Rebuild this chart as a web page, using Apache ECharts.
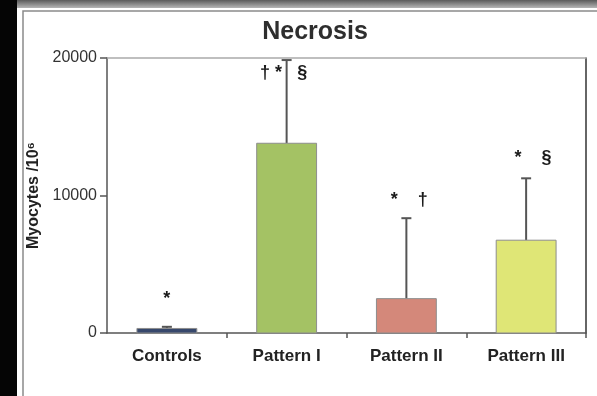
<!DOCTYPE html>
<html>
<head>
<meta charset="utf-8">
<script src="https://cdn.jsdelivr.net/npm/echarts@6/dist/echarts.min.js"></script>
<style>
  html, body { margin: 0; padding: 0; background: #fff; }
  #chart { width: 597px; height: 396px; }
</style>
</head>
<body>
<div id="chart"></div>
<script>
// Necrotic myocytes per 10^6, mean and upper error bound for each group
const categories = ['Controls', 'Pattern I', 'Pattern II', 'Pattern III'];
const means = [330, 13800, 2500, 6750];
const upperErrors = [450, 19850, 8350, 11250];
const significance = ['*', '† *   §', '*    †', '*    §'];
const significanceAt = [2500, 18900, 9650, 12700];
const barColors = ['#37486c', '#a4c264', '#d4887a', '#dfe676'];
const yTicks = [0, 10000, 20000];

// horizontal nudge of each significance label relative to the bar centre (px)
const labelShift = [0, -3, 3, 7];

const chart = echarts.init(document.getElementById('chart'));
const FONT = '"Liberation Sans", Arial, sans-serif';

const rows = categories.map((c, i) => [i, means[i], upperErrors[i], significanceAt[i]]);

chart.setOption({
  animation: false,
  backgroundColor: '#fff',
  title: {
    text: 'Necrosis',
    left: 310, top: 15, textAlign: 'center',
    textStyle: { fontFamily: FONT, fontSize: 25, fontWeight: 'bold', color: '#2e2e2e' }
  },
  graphic: [
    { type: 'rect', left: 0, top: 0, shape: { width: 17, height: 396 }, style: { fill: '#050505' }, z: 100 },
    { type: 'rect', left: 17, top: 0, shape: { width: 580, height: 8 },
      style: { fill: new echarts.graphic.LinearGradient(0, 0, 0, 1, [
        { offset: 0, color: '#5a5a5a' }, { offset: 1, color: '#b5b5b5' }]) }, z: 100 },
    { type: 'rect', left: 20.5, top: 8.5, shape: { width: 575, height: 386 },
      style: { fill: 'none', stroke: '#8a8a8a', lineWidth: 1.5 }, z: 100 }
  ],
  grid: { left: 107, top: 58, right: 11, bottom: 63 },
  xAxis: [{
    type: 'category', data: categories, position: 'bottom',
    axisLine: { onZero: false, lineStyle: { color: '#555', width: 1.5 } },
    axisTick: { show: true, length: 5, interval: (idx) => idx > 0, lineStyle: { color: '#555', width: 1.5 } },
    axisLabel: { margin: 15, fontFamily: FONT, fontSize: 17, fontWeight: 'bold', color: '#222' }
  }, {
    type: 'category', data: categories, position: 'top',
    axisLine: { onZero: false, lineStyle: { color: '#aaa', width: 1.5 } },
    axisTick: { show: false }, axisLabel: { show: false }
  }],
  yAxis: [{
    type: 'value', min: 0, max: 20000, interval: 10000,
    name: 'Myocytes /10⁶', nameLocation: 'middle', nameGap: 61, nameRotate: 90,
    nameTextStyle: { fontFamily: FONT, fontSize: 16, fontWeight: 'bold', color: '#222' },
    axisLine: { show: true, onZero: false, lineStyle: { color: '#555', width: 1.5 } },
    axisTick: { show: true, length: 7, lineStyle: { color: '#555', width: 1.5 } },
    axisLabel: { margin: 10, fontFamily: FONT, fontSize: 16, color: '#333',
      formatter: v => yTicks.includes(v) ? String(v) : '' },
    splitLine: { show: false }
  }, {
    type: 'value', min: 0, max: 20000, interval: 10000, position: 'right',
    axisLine: { show: true, onZero: false, lineStyle: { color: '#333', width: 1.5 } },
    axisTick: { show: false }, axisLabel: { show: false }, splitLine: { show: false }
  }],
  series: [{
    type: 'custom',
    data: rows,
    renderItem: (params, api) => {
      const i = api.value(0);
      const base = api.coord([i, 0]);
      const top = api.coord([i, api.value(1)]);
      const err = api.coord([i, api.value(2)]);
      const note = api.coord([i, api.value(3)]);
      const bw = api.size([1, 0])[0] * 0.5;
      const cx = base[0];
      return {
        type: 'group',
        children: [
          { type: 'line', shape: { x1: cx, y1: top[1], x2: cx, y2: err[1] },
            style: { stroke: '#555', lineWidth: 2 } },
          { type: 'line', shape: { x1: cx - 5, y1: err[1], x2: cx + 5, y2: err[1] },
            style: { stroke: '#555', lineWidth: 2 } },
          { type: 'rect', shape: { x: cx - bw / 2, y: top[1], width: bw, height: base[1] - top[1] },
            style: { fill: barColors[i], stroke: '#8d8d8d', lineWidth: 1 } },
          { type: 'text', x: cx + labelShift[i], y: note[1],
            style: { text: significance[i], align: 'center', verticalAlign: 'middle',
              font: 'bold 18px ' + FONT, fill: '#1a1a1a' } }
        ]
      };
    }
  }]
});
</script>
</body>
</html>
